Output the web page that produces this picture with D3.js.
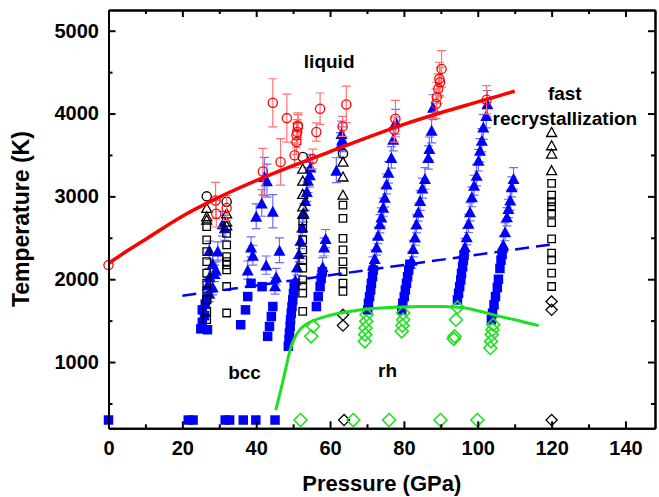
<!DOCTYPE html>
<html><head><meta charset="utf-8">
<script src="https://cdn.jsdelivr.net/npm/d3@7"></script>
<style>html,body{margin:0;padding:0;background:#fff;} svg{display:block;}</style>
</head><body>
<svg id="chart" width="659" height="497"></svg>
<script>
// ---- tick values ----
const xTicks = [0, 20, 40, 60, 80, 100, 120, 140];
const xMinor = [10, 30, 50, 70, 90, 110, 130];
const yTicks = [1000, 2000, 3000, 4000, 5000];
const yMinor = [500, 1500, 2500, 3500, 4500];

// ---- heating runs: filled squares [P (GPa), T (K)] ----
const runSquares = [
  [25.0,1400],[26.8,1390],[25.4,1480],[26.0,1560],[25.4,1630],[26.2,1700],[26.6,1760],
  [35.8,1450],[37.1,1630],[37.7,1790],[38.6,1950],[41.6,1910],[43.1,1310],[43.6,1430],[44.1,1550],[44.5,1670],
  [48.7,1190],[48.9,1270],[49.0,1350],[49.2,1430],[49.3,1510],[49.5,1590],[49.7,1670],[49.9,1750],[50.1,1830],[50.3,1910],
  [56.3,1670],[56.8,1790],[57.3,1910],[57.6,2010],[57.9,2090],
  [70.2,1630],[70.4,1710],[70.7,1790],[71.0,1870],[71.2,1950],[71.5,2030],[71.7,2110],
  [79.4,1630],[79.7,1710],[80.1,1790],[80.4,1870],[80.7,1950],[81.0,2030],[81.3,2110],[81.6,2180],
  [94.5,1750],[94.8,1830],[95.1,1910],[95.4,1990],[95.6,2070],[95.9,2150],[96.1,2230],[96.3,2290],
  [103.7,1510],[104.0,1590],[104.4,1690],[104.8,1790],[105.3,1900],[105.6,2000],[106.0,2130],[106.3,2230],[106.6,2300],
  [0,300],[21.6,300],[22.9,300],[31.6,300],[32.8,300],[36.5,300],[39.9,300],[45.1,300]
];

// ---- heating runs: filled triangles [P, T, error] ----
const runTriangles = [
  [27.3,2350,110],[29.6,2340,110],[28.2,2190,100],[28.7,2070,100],[27.3,2030,100],[28.2,1910,100],
  [27.3,1830,100],[29.1,2110,100],[26.8,1930,90],[30.9,2670,150],[31.5,2620,150],
  [40.0,2760,150],[41.5,2920,160],[44.5,2820,200],[42.2,3240,230],[42.9,3190,200],[38.6,2390,120],
  [39.1,2290,120],[46.3,2350,150],[42.7,2170,110],[37.7,2110,110],[45.4,2030,100],[45.1,1920,100],
  [50.6,1990,100],[51.1,2150,100],[51.6,2310,100],[52.0,2470,100],[52.5,2630,100],[52.9,2800,110],
  [53.3,2950,120],[53.7,3060,120],[54.0,3196,150],[54.5,3260,150],[54.7,3356,150],
  [58.0,2150,110],[58.4,2390,110],[58.8,2490,110],
  [61.7,3316,150],[62.8,3620,150],[63.3,3690,150],[63.1,3760,150],
  [71.6,2170,100],[72.1,2250,100],[72.6,2390,100],[73.0,2530,100],[73.5,2670,110],[73.9,2750,110],
  [74.4,2870,110],[74.8,2990,120],[75.3,3150,120],[75.8,3290,130],[76.6,3470,130],[77.1,3690,140],[77.8,3900,150],
  [82.1,2230,100],[82.5,2370,100],[83.0,2510,100],[83.4,2670,110],[83.9,2810,110],[84.4,2950,120],
  [85.0,3100,120],[85.7,3216,130],[86.6,3470,140],[86.9,3577,140],[87.5,3797,150],[87.9,4077,150],
  [96.5,2393,100],[97.0,2514,100],[97.5,2674,110],[97.9,2815,110],[98.4,2995,120],[99.0,3135,120],
  [99.7,3256,130],[100.2,3436,130],[100.6,3556,140],[101.1,3677,140],[101.5,3837,150],[102.3,3977,150],[102.6,4118,160],
  [106.9,2420,100],[107.4,2574,110],[107.9,2754,110],[108.3,2855,110],[108.8,2955,120],[109.2,3115,120],[109.7,3216,130]
];

// ---- melting points: open red circles [P, T, error] ----
const meltPoints = [
  [0,2170,0],
  [29.0,2950,220],[29.2,2790,160],[32.0,2860,150],
  [41.8,3300,280],[44.5,4130,290],[46.6,3416,280],[48.3,3945,290],
  [50.4,3496,150],[50.9,3656,150],[50.9,3737,150],[51.1,3777,150],[51.3,3837,150],[51.3,3857,150],
  [55.3,3450,120],[56.3,3777,110],[57.3,4058,190],
  [63.4,3845,120],[64.4,4110,220],
  [77.4,3806,150],[77.7,3938,220],
  [88.7,4118,180],[88.9,4198,180],[89.3,4298,180],[89.8,4378,180],[89.6,4419,200],[90.2,4539,220],
  [102.4,4166,170]
];

// ---- quench observations: open black symbols [P, T] ----
const openCircles = [[26.6,3000],[32.0,2935],[52.6,3476],[63.5,3517]];
const openTriangles = [
  [26.6,2860],[26.6,2760],[26.6,2720],
  [32.0,2795],[32.0,2694],[32.0,2650],
  [52.6,3336],[52.6,3190],[52.6,3030],[52.6,2880],[52.6,2790],
  [63.5,3420],[63.5,3240],[63.5,3020],
  [120,3777],[120,3617],[120,3517],[120,3316]
];
const openSquares = [
  [26.6,2634],[26.6,2474],[26.6,2333],[26.6,2213],[26.6,2073],[26.6,1953],[26.6,1852],[26.6,1752],[26.6,1611],[26.6,1511],
  [32.0,2554],[32.0,2414],[32.0,2273],[32.0,2213],[32.0,2173],[32.0,2113],[32.0,1912],[32.0,1592],
  [52.6,2700],[52.6,2614],[52.6,2474],[52.6,2353],[52.6,2233],[52.6,2133],[52.6,1993],[52.6,1920],[52.6,1832],[52.6,1611],
  [63.5,2895],[63.5,2734],[63.5,2494],[63.5,2353],[63.5,2213],[63.5,2093],[63.5,1953],[63.5,1853],
  [120,3156],[120,3015],[120,2935],[120,2875],[120,2795],[120,2684],[120,2486],[120,2314],[120,2233],[120,2073],[120,1912]
];
const openDiamonds = [[63.5,1570],[63.5,1440],[120,1730],[120,1630],[63.8,300],[120,300]];

// ---- rh phase: open green diamonds [P, T] ----
const rhDiamonds = [
  [55.4,1431],[54.9,1311],
  [69.9,1571],[69.8,1491],[69.6,1411],[69.5,1331],[69.4,1250],
  [79.8,1592],[79.8,1511],[79.6,1440],[79.4,1371],
  [94.5,1660],[94.1,1511],[93.7,1311],[93.5,1280],
  [104.2,1451],[104.0,1391],[103.8,1331],[103.6,1250],[103.4,1170],
  [52.0,300],[66.3,300],[76.0,300],[89.9,300],[99.9,300]
];

// ---- curves ----
const meltCurveP = [0, 5, 10, 20, 30, 40, 50, 60, 70, 80, 90, 100, 110];
const meltCurveT = [2190, 2340, 2480, 2760, 2990, 3190, 3370, 3540, 3710, 3870, 4010, 4140, 4270];
const rhLineP = [45.3, 46.3, 47.3, 48.3, 49.2, 50.5, 52, 55, 58, 62, 66, 70, 75, 80, 85, 90, 95, 100, 105, 110, 116.5];
const rhLineT = [420, 600, 783, 980, 1150, 1300, 1400, 1490, 1540, 1585, 1615, 1640, 1655, 1665, 1670, 1670, 1660, 1620, 1560, 1510, 1440];
const dashP = [20, 120];
const dashT = [1800, 2420];

// ---- layout ----
const svg = d3.select('#chart');
const x = d3.scaleLinear().domain([0, 148]).range([108.5, 655]);
const y = d3.scaleLinear().domain([200, 5250]).range([428.3, 10]);
const FONT = '"Liberation Sans", Arial, Helvetica, sans-serif';

const BLUE = '#0000ff', BLUE_ERR = '#6b6bff', RED = '#ff0000', RED_ERR = '#ff7373', GREEN = '#1fe01f';

// marker path helpers
const tri = (cx, cy, w, h) => `M${cx},${cy - h / 2}L${cx + w / 2},${cy + h / 2}L${cx - w / 2},${cy + h / 2}Z`;
const sq = (cx, cy, s) => `M${cx - s / 2},${cy - s / 2}h${s}v${s}h${-s}Z`;
const dia = (cx, cy, r) => `M${cx},${cy - r}L${cx + r},${cy}L${cx},${cy + r}L${cx - r},${cy}Z`;

function errorBars(g, data, color, cap) {
  const withErr = data.filter(d => d[2] > 0);
  const e = g.append('g').attr('stroke', color).attr('stroke-width', 1.2).attr('fill', 'none');
  e.selectAll('path').data(withErr).join('path')
    .attr('d', d => {
      const cx = x(d[0]), y1 = y(d[1] + d[2]), y2 = y(d[1] - d[2]);
      return `M${cx},${y1}V${y2}M${cx - cap / 2},${y1}h${cap}M${cx - cap / 2},${y2}h${cap}`;
    });
}

const plot = svg.append('g');

// blue runs
errorBars(plot, runTriangles, BLUE_ERR, 9);
plot.append('g').selectAll('path').data(runSquares).join('path')
  .attr('d', d => sq(x(d[0]), y(d[1]), 9.5)).attr('fill', BLUE);
plot.append('g').selectAll('path').data(runTriangles).join('path')
  .attr('d', d => tri(x(d[0]), y(d[1]), 12, 11)).attr('fill', BLUE);

// black open symbols
const blk = plot.append('g').attr('fill', 'none').attr('stroke', '#000').attr('stroke-width', 1.3);
blk.append('g').selectAll('path').data(openSquares).join('path').attr('d', d => sq(x(d[0]), y(d[1]), 7.5));
blk.append('g').selectAll('path').data(openTriangles).join('path').attr('d', d => tri(x(d[0]), y(d[1]), 10, 9));
blk.append('g').selectAll('circle').data(openCircles).join('circle')
  .attr('cx', d => x(d[0])).attr('cy', d => y(d[1])).attr('r', 4.6);
blk.append('g').selectAll('path').data(openDiamonds).join('path').attr('d', d => dia(x(d[0]), y(d[1]), 5.6));

// melting data
errorBars(plot, meltPoints, RED_ERR, 9);
plot.append('g').selectAll('circle').data(meltPoints).join('circle')
  .attr('cx', d => x(d[0])).attr('cy', d => y(d[1])).attr('r', 4.6)
  .attr('fill', 'none').attr('stroke', RED).attr('stroke-width', 1.3);

// rh diamonds
plot.append('g').selectAll('path').data(rhDiamonds).join('path')
  .attr('d', d => dia(x(d[0]), y(d[1]), 6.5))
  .attr('fill', 'none').attr('stroke', GREEN).attr('stroke-width', 1.6);

// lines
const line = d3.line().x(d => x(d[0])).y(d => y(d[1])).curve(d3.curveMonotoneX);
plot.append('path').datum(d3.zip(dashP, dashT)).attr('d', d3.line().x(d => x(d[0])).y(d => y(d[1])))
  .attr('fill', 'none').attr('stroke', BLUE).attr('stroke-width', 2.5).attr('stroke-dasharray', '14,7');
plot.append('path').datum(d3.zip(meltCurveP, meltCurveT)).attr('d', line)
  .attr('fill', 'none').attr('stroke', RED).attr('stroke-width', 3.5);
plot.append('path').datum(d3.zip(rhLineP, rhLineT)).attr('d', line)
  .attr('fill', 'none').attr('stroke', GREEN).attr('stroke-width', 3);

// axes
function styleAxis(g) {
  g.selectAll('path.domain').attr('stroke', '#000').attr('stroke-width', 2);
  g.selectAll('.tick line').attr('stroke', '#000').attr('stroke-width', 2);
  g.selectAll('.tick text').attr('font-family', FONT).attr('font-weight', 'bold')
    .attr('font-size', 20).attr('fill', '#000');
}
const none = () => '';
const y0 = y.range()[0], y1 = y.range()[1], x0 = x.range()[0], x1 = x.range()[1];

svg.append('g').attr('transform', `translate(0,${y0})`)
  .call(d3.axisBottom(x).tickValues(xTicks).tickSize(-7).tickSizeOuter(0).tickPadding(12.5).tickFormat(d3.format('d'))).call(styleAxis);
svg.append('g').attr('transform', `translate(0,${y0})`)
  .call(d3.axisBottom(x).tickValues(xMinor).tickSize(-4).tickSizeOuter(0).tickFormat(none)).call(styleAxis);
svg.append('g').attr('transform', `translate(0,${y1})`)
  .call(d3.axisTop(x).tickValues(xTicks).tickSize(-7).tickSizeOuter(0).tickFormat(none)).call(styleAxis);
svg.append('g').attr('transform', `translate(0,${y1})`)
  .call(d3.axisTop(x).tickValues(xMinor).tickSize(-4).tickSizeOuter(0).tickFormat(none)).call(styleAxis);
svg.append('g').attr('transform', `translate(${x0},0)`)
  .call(d3.axisLeft(y).tickValues(yTicks).tickSize(-7).tickSizeOuter(0).tickPadding(9.5).tickFormat(d3.format('d'))).call(styleAxis);
svg.append('g').attr('transform', `translate(${x0},0)`)
  .call(d3.axisLeft(y).tickValues(yMinor).tickSize(-4).tickSizeOuter(0).tickFormat(none)).call(styleAxis);
svg.append('g').attr('transform', `translate(${x1},0)`)
  .call(d3.axisRight(y).tickValues(yTicks).tickSize(-7).tickSizeOuter(0).tickFormat(none)).call(styleAxis);
svg.append('g').attr('transform', `translate(${x1},0)`)
  .call(d3.axisRight(y).tickValues(yMinor).tickSize(-4).tickSizeOuter(0).tickFormat(none)).call(styleAxis);

// axis titles
svg.append('text').attr('x', (x0 + x1) / 2).attr('y', 491).attr('text-anchor', 'middle')
  .attr('font-family', FONT).attr('font-weight', 'bold').attr('font-size', 22).text('Pressure (GPa)');
svg.append('text').attr('transform', `translate(28.5,${(y0 + y1) / 2}) rotate(-90)`).attr('text-anchor', 'middle')
  .attr('font-family', FONT).attr('font-weight', 'bold').attr('font-size', 23).text('Temperature (K)');

// phase labels
const labels = [
  {t: 'liquid', p: 52.9, T: 4550},
  {t: 'bcc', p: 32.4, T: 800},
  {t: 'rh', p: 73.0, T: 815},
  {t: 'fast', p: 119.0, T: 4160},
  {t: 'recrystallization', p: 104.0, T: 3860}
];
svg.append('g').selectAll('text').data(labels).join('text')
  .attr('x', d => x(d.p)).attr('y', d => y(d.T))
  .attr('font-family', FONT).attr('font-weight', 'bold').attr('font-size', 19).text(d => d.t);
</script></body></html>
